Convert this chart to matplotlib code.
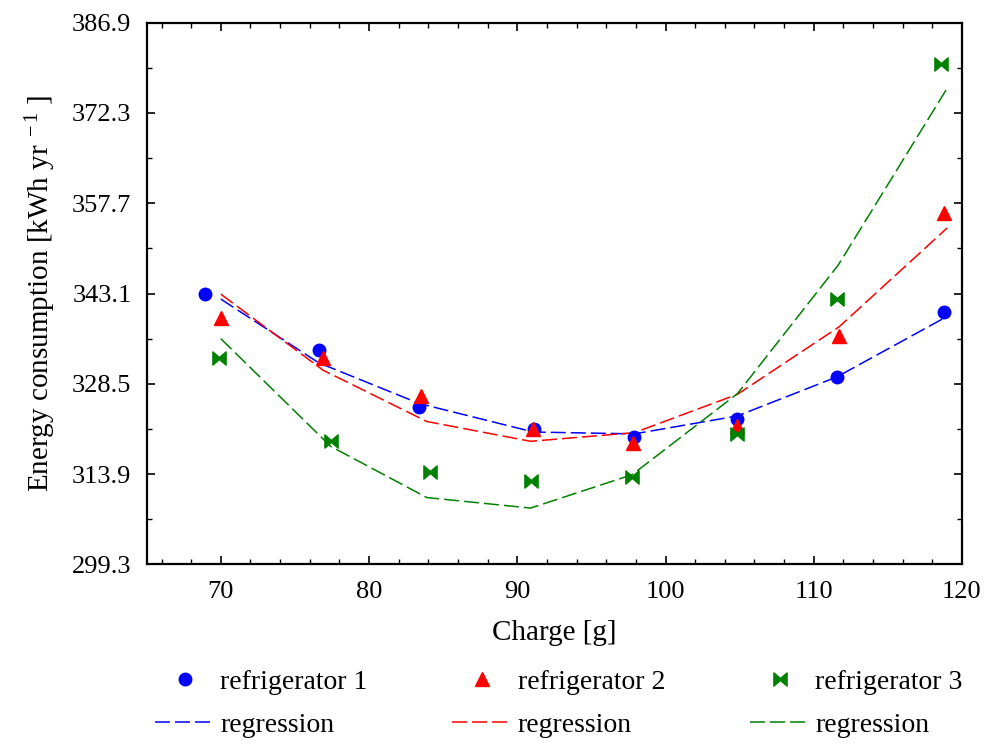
import matplotlib
matplotlib.use("Agg")
import matplotlib.pyplot as plt
from matplotlib.path import Path
from matplotlib.ticker import MultipleLocator, FixedLocator
import numpy as np

plt.rcParams['font.family'] = ['Liberation Serif', 'DejaVu Serif']
plt.rcParams['mathtext.fontset'] = 'custom'
plt.rcParams['mathtext.rm'] = 'Liberation Serif'
plt.rcParams['mathtext.it'] = 'Liberation Serif:italic'

# ---- data ----
x1 = [68.9, 76.6, 83.4, 91.1, 97.9, 104.85, 111.55, 118.8]
y1 = [343.1, 334.0, 324.8, 321.2, 319.9, 322.8, 329.6, 340.1]
x2 = [70.0, 76.9, 83.5, 91.05, 97.8, 104.85, 111.7, 118.8]
y2 = [339.2, 332.7, 326.5, 321.15, 318.9, 321.6, 336.3, 356.2]
x3 = [69.9, 77.4, 84.1, 90.9, 97.75, 104.85, 111.6, 118.6]
y3 = [332.7, 319.3, 314.2, 312.8, 313.5, 320.4, 342.2, 380.3]

rx1 = [70.0, 76.6, 83.4, 91.1, 97.9, 104.85, 111.55, 119.0]
ry1 = [342.2, 331.9, 325.3, 320.7, 320.4, 323.3, 329.6, 339.4]
rx2 = [70.0, 76.9, 83.9, 90.9, 97.9, 104.85, 111.7, 119.0]
ry2 = [343.0, 330.7, 322.4, 319.2, 320.6, 326.8, 337.7, 353.7]
rx3 = [70.0, 77.4, 83.9, 90.9, 97.75, 104.85, 111.65, 119.0]
ry3 = [335.8, 318.4, 310.1, 308.4, 313.8, 326.9, 347.7, 376.3]

yticks = [299.3, 313.9, 328.5, 343.1, 357.7, 372.3, 386.9]
xticks = [70, 80, 90, 100, 110, 120]
labels = ['refrigerator 1', 'refrigerator 2', 'refrigerator 3']
reg_label = 'regression'

# bowtie marker
bow = Path([(-1, 1), (0, 0.15), (1, 1), (1, -1), (0, -0.15), (-1, -1), (-1, 1)],
           [Path.MOVETO, Path.LINETO, Path.LINETO, Path.LINETO, Path.LINETO, Path.LINETO, Path.CLOSEPOLY])

fig = plt.figure(figsize=(9.9, 7.45), dpi=100)
ax = fig.add_axes([0.1482, 0.2425, 0.8235, 0.727])

dash = (9.8, 3.3)
lw = 1.1
l1, = ax.plot(rx1, ry1, color='blue', lw=lw, dashes=dash, label=reg_label)
l2, = ax.plot(rx2, ry2, color='red', lw=lw, dashes=dash, label=reg_label)
l3, = ax.plot(rx3, ry3, color='green', lw=lw, dashes=dash, label=reg_label)

s1, = ax.plot(x1, y1, linestyle='none', marker='o', color='blue', markersize=9, label=labels[0])
s2, = ax.plot(x2, y2, linestyle='none', marker='^', color='red', markersize=10, label=labels[1])
s3, = ax.plot(x3, y3, linestyle='none', marker=bow, color='green', markersize=9.5, label=labels[2])

ax.set_xlim(65, 120)
ax.set_ylim(299.3, 386.9)
ax.xaxis.set_major_locator(FixedLocator(xticks))
ax.xaxis.set_minor_locator(MultipleLocator(2))
ax.yaxis.set_major_locator(FixedLocator(yticks))
ax.yaxis.set_minor_locator(FixedLocator([299.3 + 7.3 * i for i in range(13)]))
ax.set_yticklabels([f"{v:.1f}" for v in yticks])

ax.tick_params(which='both', direction='in', top=True, right=True, labelsize=19, color='black')
ax.tick_params(which='major', length=6, width=1.2)
ax.tick_params(which='minor', length=3.5, width=1.0)
ax.tick_params(axis='x', pad=12)
ax.tick_params(axis='y', pad=11)
for sp in ax.spines.values():
    sp.set_linewidth(1.6)

ax.set_xlabel('Charge [g]', fontsize=21, labelpad=12)
ax.set_ylabel('Energy consumption [kWh yr$^{\\ -1}$ ]', fontsize=21, labelpad=10)

leg = fig.legend([s1, l1, s2, l2, s3, l3],
                 [labels[0], reg_label, labels[1], reg_label, labels[2], reg_label],
                 ncol=3, loc='upper left', bbox_to_anchor=(0.1566, 0.101),
                 frameon=False, fontsize=20, handlelength=2.15, handletextpad=0.2,
                 columnspacing=3.05, labelspacing=0.62, borderpad=0, borderaxespad=0)

fig.savefig('out.png', dpi=100)
